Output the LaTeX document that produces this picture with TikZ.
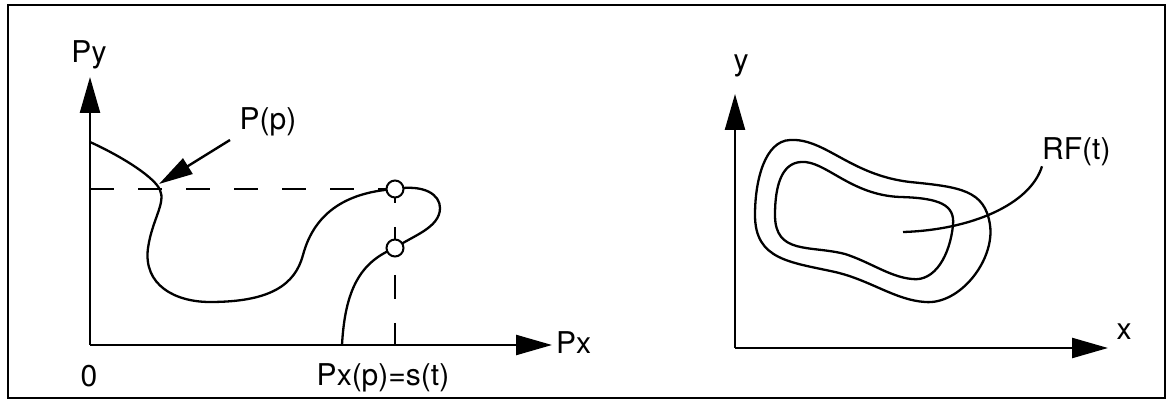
\documentclass[tikz,border=0pt]{standalone}
\usepackage{fontspec}
\setmainfont{TeX Gyre Heros}
\usetikzlibrary{arrows.meta}
\begin{document}
\begin{tikzpicture}[x=1pt,y=-1pt,
  axis/.style={line width=2.4pt,-{Triangle[length=36pt,width=20pt]}},
  crv/.style={line width=2.3pt},
  dsh/.style={line width=2.2pt,dash pattern=on 24pt off 24pt},
  lbl/.style={font=\fontsize{30}{34}\selectfont,inner sep=0pt},
  mark circ/.style={circle,draw,line width=2pt,fill=white,minimum size=17pt,inner sep=0pt}]
\useasboundingbox (0,0) rectangle (1173,403);
\draw[line width=2.4pt] (8,5) rectangle (1165,398);
% left plot
\coordinate (O) at (90,345);
\coordinate (ytip) at (90,77);
\coordinate (xtip) at (552,345);
\coordinate (hd0) at (90,189);
\coordinate (vd0) at (395,345);
\draw[dsh] (hd0) -- (395,189);
\draw[dsh,dash phase=10pt] (395,189) -- (vd0);
\draw[crv] (90,142) .. controls (125,158) and (155,178) .. (160,190)
  .. controls (166,203) and (152,220) .. (148,248)
  .. controls (143,285) and (175,302) .. (210,302)
  .. controls (270,302) and (295,285) .. (303,255)
  .. controls (315,210) and (350,192) .. (395,189)
  .. controls (425,184) and (440,195) .. (440,208)
  .. controls (440,228) and (412,236) .. (395,248)
  .. controls (360,262) and (345,290) .. (342,345);
\draw[axis] (O) -- (ytip);
\draw[axis] (O) -- (xtip);
\node[mark circ] (c1) at (395,189) {};
\node[mark circ] (c2) at (395,248) {};
\node[lbl] (Py) at (89,55) {Py};
\node[lbl,anchor=west] (Px) at (556,343) {Px};
\node[lbl] (zero) at (89,376) {0};
\node[lbl] (sx) at (383,378) {Px(p)=s(t)};
\node[lbl] (Pp) at (268,122) {P(p)};
\coordinate (Ptip) at (159,184);
\draw[line width=2.4pt,-{Triangle[length=34pt,width=18pt]}] (230,140) -- (Ptip);
% right plot
\coordinate (O2) at (735,348);
\coordinate (ytip2) at (735,94);
\coordinate (xtip2) at (1108,348);
\draw[axis] (O2) -- (ytip2);
\draw[axis] (O2) -- (xtip2);
\node[lbl] (y) at (741,66) {y};
\node[lbl] (x) at (1124,332) {x};
\draw[crv] (790,140) .. controls (825,138) and (850,175) .. (910,182)
  .. controls (960,187) and (985,190) .. (990,225)
  .. controls (995,260) and (960,305) .. (925,302)
  .. controls (895,300) and (870,280) .. (835,272)
  .. controls (790,262) and (755,260) .. (755,215)
  .. controls (755,180) and (765,141) .. (790,140) -- cycle;
\draw[crv] (801,162) .. controls (825,160) and (850,195) .. (900,197)
  .. controls (940,198) and (955,205) .. (953,225)
  .. controls (950,255) and (935,282) .. (912,279)
  .. controls (890,277) and (870,262) .. (845,254)
  .. controls (810,245) and (775,255) .. (775,215)
  .. controls (775,185) and (782,163) .. (801,162) -- cycle;
\node[lbl,anchor=west] (RF) at (1042,152) {RF(t)};
\coordinate (rfs) at (903,232);
\draw[crv] (rfs) .. controls (970,230) and (1030,205) .. (RF.south west);
\end{tikzpicture}
\end{document}
